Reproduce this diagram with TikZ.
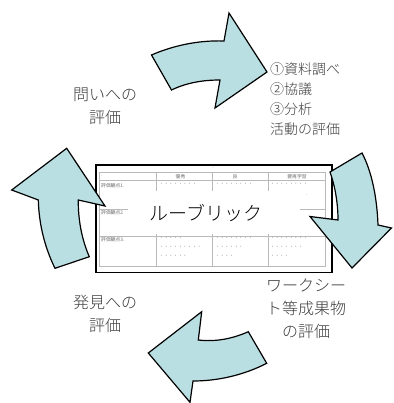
\documentclass[tikz,border=0pt]{standalone}
\usepackage{fontspec}
\newfontfamily\jp{Noto Sans CJK JP}
\newfontfamily\jpl{Noto Sans CJK JP Light}
\definecolor{arrowblue}{RGB}{185,223,227}
\definecolor{lblgray}{RGB}{60,60,60}
\definecolor{gridgray}{RGB}{185,185,185}
\definecolor{tinygray}{RGB}{110,110,110}
\begin{document}
\begin{tikzpicture}[x=1pt,y=-1pt,
  arrowshape/.style={fill=arrowblue, draw=black, line width=1.2pt, line join=miter},
  lbl/.style={text=lblgray, font=\jpl\fontsize{16}{23}\selectfont, align=center, inner sep=0pt},
  tinytxt/.style={text=tinygray, font=\jp\fontsize{4.8}{5}\selectfont, inner sep=0pt},
  dotstxt/.style={text=tinygray, font=\jp\fontsize{4.7}{9}\selectfont, inner sep=0pt, anchor=north west, align=left},
  gridline/.style={draw=gridgray, line width=0.5pt}]
\useasboundingbox (0,0) rectangle (393,403);

% rubric frame
\node[draw=black, line width=1.5pt, minimum width=236pt, minimum height=107pt, anchor=north west, inner sep=0pt] (box) at (95,164.5) {};

% table grid
\draw[gridline] (99,172.5) rectangle (325,266);
\draw[gridline] (99,180.5) -- (325,180.5);
\draw[gridline] (99,209) -- (325,209);
\draw[gridline] (99,236) -- (325,236);
\draw[gridline] (156.5,172.5) -- (156.5,266);
\draw[gridline] (212.5,172.5) -- (212.5,266);
\draw[gridline] (268.5,172.5) -- (268.5,266);

% header
\node[tinytxt] (h1) at (180.5,176.5) {優秀};
\node[tinytxt] (h2) at (235,176.5) {良};
\node[tinytxt] (h3) at (297,176.5) {要再学習};
\node[tinytxt, anchor=west] (h0) at (101,176.5) {.};
\node[tinytxt] (m0) at (213,168) {.};
\node[tinytxt, anchor=west] (m1) at (101,269) {.};

% row labels
\node[tinytxt, anchor=west] (r1) at (101,186) {評価観点1.};
\node[tinytxt, anchor=west] (r2) at (101,213) {評価観点2};
\node[tinytxt, anchor=west] (r3) at (101,240) {評価観点3.};

% row 1 dots
\node[dotstxt] (d12) at (159,183.5) {・・・・・・・・};
\node[dotstxt] (d13) at (215,183.5) {・・・・・・・・};
\node[dotstxt] (d14) at (270,183.5) {・・・・・・・・};
\node[tinytxt] (d14b) at (307,195) {.};
% row 3 dots
\node[dotstxt] (d32) at (159,237.5) {・・・・・\\・・・・・・・・・\\・・・・・・};
\node[dotstxt] (d33) at (215,237.5) {・・・・・・・・\\・・・・・・\\・・・・};
\node[dotstxt] (d34) at (270,237.5) {・・・・・・・・\\・・・・・・・\\・・・・};

% title
\fill[white] (128,191) rectangle (300,234);
\node[font=\jpl\fontsize{19}{19}\selectfont, text=black, inner sep=0pt] (title) at (206,213) {ルーブリック};

% arrows
\draw[arrowshape] (151.5,55) .. controls (172,46) and (198,40) .. (224,41) -- (229,13) -- (267,72) -- (215,108) -- (220,80) .. controls (202,80) and (186,83) .. (171.5,90) -- cycle;
\draw[arrowshape] (362,153) .. controls (372,172) and (377,198) .. (378,225) -- (391.5,228) -- (352,268) -- (310,216.5) -- (338,220) .. controls (338,203) and (335,186) .. (330,172) -- cycle;
\draw[arrowshape] (148.3,353) -- (201.7,311.7) -- (198.3,340) .. controls (215,342) and (232,339) .. (248.3,331.7) -- (266.7,363.3) .. controls (244,375) and (218,381) .. (193,381) -- (190,402.3) -- cycle;
\draw[arrowshape] (66.7,148.3) -- (105,206) -- (78.3,200) .. controls (78,220) and (82,240) .. (89.3,256.7) -- (55,268.3) .. controls (45,248) and (39,225) .. (38.3,200) -- (11.7,190) -- cycle;

% labels
\node[lbl] (q) at (105,106) {問いへの\\評価};
\node[lbl, align=left, anchor=north west, font=\jpl\fontsize{14}{20}\selectfont] (act) at (270,63) {①資料調べ\\②協議\\③分析\\活動の評価};
\node[lbl] (ws) at (306,309) {ワークシー\\ト等成果物\\の評価};
\node[lbl] (disc) at (105,314) {発見への\\評価};
\end{tikzpicture}
\end{document}
